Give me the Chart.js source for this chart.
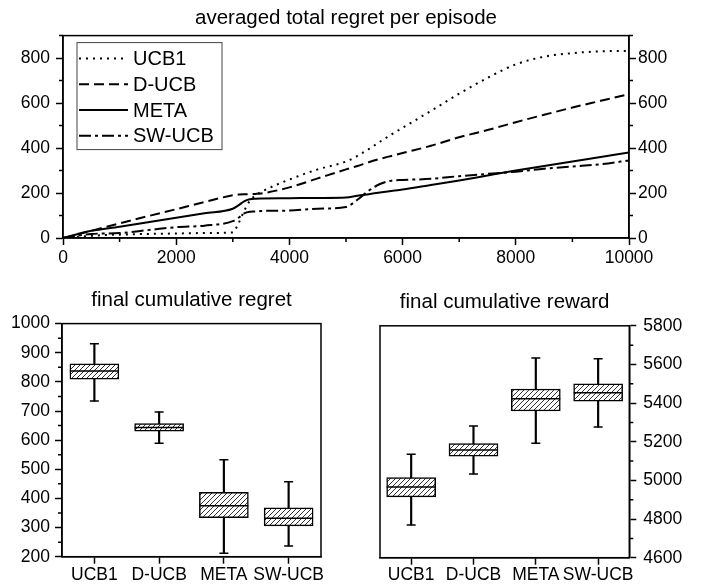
<!DOCTYPE html>
<html>
<head>
<meta charset="utf-8">
<script src="https://cdn.jsdelivr.net/npm/chart.js@4.4.1/dist/chart.umd.min.js"></script>
<style>
    html, body { margin: 0; padding: 0; background: #fff; }
    body { width: 708px; height: 588px; position: relative; overflow: hidden; }
    canvas { position: absolute; }
    #regretLine { left: 0; top: 0; }
    #regretBox { left: 0; top: 280px; }
    #rewardBox { left: 354px; top: 280px; }
</style>
</head>
<body>
<canvas id="regretLine" width="708" height="280"></canvas>
<canvas id="regretBox" width="354" height="308"></canvas>
<canvas id="rewardBox" width="354" height="308"></canvas>
<script>
const episodes = [0, 250, 500, 1000, 1500, 2000, 2500, 3000, 3100, 3200, 3300, 3400, 3500, 4000, 4500,
    5000, 5200, 5400, 5600, 5800, 6000, 6500, 7000, 7500, 8000, 8500, 9000, 9500, 10000];
const ucb1Regret = [0, 5, 10, 15, 18, 20, 22, 25, 65, 120, 165, 190, 205, 260, 305,
    340, 365, 395, 428, 460, 490, 565, 642, 712, 772, 806, 822, 830, 832];
const ducbRegret = [0, 15, 32, 65, 97, 128, 160, 190, 193, 195, 195, 196, 198, 225, 265,
    305, 320, 337, 352, 365, 378, 410, 448, 480, 515, 548, 580, 610, 640];
const metaRegret = [0, 17, 32, 50, 70, 90, 110, 130, 145, 163, 172, 175, 176, 177, 178,
    180, 188, 195, 202, 209, 216, 236, 256, 278, 300, 320, 340, 360, 380];
const swucbRegret = [0, 10, 18, 22, 35, 48, 55, 75, 90, 110, 117, 118, 120, 122, 130,
    138, 170, 210, 240, 255, 258, 263, 275, 285, 295, 308, 318, 328, 345];

// box plots
const algorithms = ['UCB1', 'D-UCB', 'META', 'SW-UCB'];
const regretMin = [734, 589, 212, 237];
const regretQ1 = [809, 631, 334, 306];
const regretMedian = [837, 643, 375, 332];
const regretQ3 = [862, 657, 421, 368];
const regretMax = [931, 697, 533, 457];

const rewardMin = [4769, 5033, 5192, 5276];
const rewardQ1 = [4915, 5126, 5359, 5410];
const rewardMedian = [4966, 5157, 5422, 5453];
const rewardQ3 = [5014, 5190, 5473, 5500];
const rewardMax = [5135, 5281, 5633, 5629];

Chart.defaults.font.family = "'Liberation Sans', Arial, sans-serif";
Chart.defaults.font.size = 17.5;
Chart.defaults.color = '#000';
Chart.defaults.animation = false;
Chart.defaults.events = [];
Chart.defaults.plugins.legend.display = false;
Chart.defaults.plugins.tooltip.enabled = false;

/**
 * Frame around the plot area
 */
const frame = {
    id: 'frame',
    afterDraw(chart) {
        const a = chart.chartArea, ctx = chart.ctx;
        ctx.save();
        ctx.strokeStyle = '#000';
        ctx.lineWidth = 1.5;
        ctx.strokeRect(a.left, a.top, a.right - a.left, a.bottom - a.top);
        ctx.restore();
    }
};

/**
 * Short unlabeled ticks between the major ones
 */
const minorTicks = {
    id: 'minorTicks',
    afterDraw(chart, args, opts) {
        const ctx = chart.ctx;
        ctx.save();
        ctx.strokeStyle = '#000';
        ctx.lineWidth = 1.5;
        Object.keys(opts.steps || {}).forEach(function(id) {
            const s = chart.scales[id];
            const step = opts.steps[id];
            if (!s) return;
            ctx.beginPath();
            for (let v = s.min; v <= s.max + 1e-6; v += step) {
                if (s.ticks.some(t => Math.abs(t.value - v) < 1e-6)) continue;
                const p = s.getPixelForValue(v);
                if (s.position === 'left') { ctx.moveTo(s.right, p); ctx.lineTo(s.right - 4, p); }
                else if (s.position === 'right') { ctx.moveTo(s.left, p); ctx.lineTo(s.left + 4, p); }
                else { ctx.moveTo(p, s.top); ctx.lineTo(p, s.top + 4); }
            }
            ctx.stroke();
        });
        ctx.restore();
    }
};

/**
 * Boxed legend in the upper left corner of the line chart
 */
const boxLegend = {
    id: 'boxLegend',
    afterDatasetsDraw(chart) {
        const a = chart.chartArea, ctx = chart.ctx;
        const x0 = a.left + 14, y0 = a.top + 7;
        ctx.save();
        ctx.strokeStyle = '#444';
        ctx.lineWidth = 1;
        ctx.strokeRect(x0, y0, 145, 107);
        ctx.font = "20px 'Liberation Sans', Arial, sans-serif";
        ctx.textBaseline = 'middle';
        ctx.fillStyle = '#000';
        chart.data.datasets.forEach(function(ds, i) {
            const y = a.top + 23 + i * 25.7;
            ctx.beginPath();
            ctx.setLineDash(ds.borderDash || []);
            ctx.lineWidth = ds.borderWidth;
            ctx.strokeStyle = ds.borderColor;
            ctx.moveTo(x0 + 2, y);
            ctx.lineTo(x0 + 51, y);
            ctx.stroke();
            ctx.fillText(ds.label, x0 + 56, y + 1);
        });
        ctx.restore();
    }
};

function makeHatch() {
    const c = document.createElement('canvas');
    c.width = 5;
    c.height = 5;
    const g = c.getContext('2d');
    g.fillStyle = '#fff';
    g.fillRect(0, 0, 5, 5);
    g.strokeStyle = '#333';
    g.lineWidth = 1;
    g.beginPath();
    g.moveTo(0, 5); g.lineTo(5, 0);
    g.moveTo(-1, 1); g.lineTo(1, -1);
    g.moveTo(4, 6); g.lineTo(6, 4);
    g.stroke();
    return g.createPattern(c, 'repeat');
}

// plain numbers, no thousands separator
function plainLabel(value) {
    return String(value);
}

function axisStyle(extra) {
    return Object.assign({
        grid: { drawOnChartArea: false, drawTicks: true, tickLength: 7, tickColor: '#000', tickWidth: 1.5, offset: false },
        border: { color: '#000', width: 1.5 }
    }, extra);
}

function seriesPoints(values) {
    return episodes.map((x, i) => ({ x: x, y: values[i] }));
}

function lineSet(label, values, dash) {
    return {
        label: label,
        data: seriesPoints(values),
        borderColor: '#000',
        borderWidth: 2,
        borderDash: dash,
        pointRadius: 0,
        cubicInterpolationMode: 'monotone',
        fill: false
    };
}

// averaged total regret per episode
new Chart(document.getElementById('regretLine'), {
    type: 'line',
    data: {
        datasets: [
            lineSet('UCB1', ucb1Regret, [2, 5]),
            lineSet('D-UCB', ducbRegret, [10, 5]),
            lineSet('META', metaRegret, []),
            lineSet('SW-UCB', swucbRegret, [12, 4, 3, 4])
        ]
    },
    options: {
        responsive: false,
        layout: { padding: 0 },
        scales: {
            x: axisStyle({
                type: 'linear', min: 0, max: 10000,
                ticks: { stepSize: 2000, padding: 3, maxRotation: 0, callback: plainLabel },
                afterFit: function(s) { s.height = 42; }
            }),
            y: axisStyle({
                type: 'linear', position: 'left', min: 0, max: 900,
                ticks: { stepSize: 200, includeBounds: false, padding: 6, callback: plainLabel },
                afterFit: function(s) { s.width = 63; }
            }),
            y2: axisStyle({
                type: 'linear', position: 'right', min: 0, max: 900,
                ticks: { stepSize: 200, includeBounds: false, padding: 2, callback: plainLabel },
                afterFit: function(s) { s.width = 79; }
            })
        },
        plugins: {
            title: {
                display: true,
                text: 'averaged total regret per episode',
                font: { size: 20.5, weight: 'normal' },
                padding: { top: 6, bottom: 5 },
                fullSize: false
            },
            minorTicks: { steps: { x: 1000, y: 100, y2: 100 } }
        }
    },
    plugins: [frame, minorTicks, boxLegend]
});

function boxDatasets(mins, q1, med, q3, maxs, hatch) {
    return [
        {
            type: 'bar', data: algorithms.map((c, i) => [mins[i], maxs[i]]),
            backgroundColor: '#000', barThickness: 1.5, grouped: false, order: 4
        },
        {
            type: 'bar', data: algorithms.map((c, i) => [q1[i], q3[i]]),
            backgroundColor: hatch, borderColor: '#000', borderWidth: 1.5,
            borderSkipped: false, barThickness: 49, grouped: false, order: 3
        },
        {
            type: 'line', data: med, showLine: false, pointStyle: 'line',
            pointRadius: 24.5, pointBorderWidth: 1.5, pointBorderColor: '#000', order: 1
        },
        {
            type: 'line', data: mins, showLine: false, pointStyle: 'line',
            pointRadius: 4.5, pointBorderWidth: 1.5, pointBorderColor: '#000', order: 2
        },
        {
            type: 'line', data: maxs, showLine: false, pointStyle: 'line',
            pointRadius: 4.5, pointBorderWidth: 1.5, pointBorderColor: '#000', order: 2
        }
    ];
}

const hatch = makeHatch();

// final cumulative regret
new Chart(document.getElementById('regretBox'), {
    type: 'bar',
    data: {
        labels: algorithms,
        datasets: boxDatasets(regretMin, regretQ1, regretMedian, regretQ3, regretMax, hatch)
    },
    options: {
        responsive: false,
        layout: { padding: { right: 33 } },
        scales: {
            x: axisStyle({
                type: 'category', offset: true,
                ticks: { padding: 1, maxRotation: 0, autoSkip: false },
                afterFit: function(s) { s.height = 31.3; }
            }),
            y: axisStyle({
                type: 'linear', position: 'left', min: 200, max: 1000,
                ticks: { stepSize: 100, padding: 5, callback: plainLabel },
                afterFit: function(s) { s.width = 62; }
            })
        },
        plugins: {
            title: {
                display: true,
                text: 'final cumulative regret',
                font: { size: 20.5, weight: 'normal' },
                padding: { top: 8, bottom: 11 },
                fullSize: false
            },
            minorTicks: { steps: { y: 50 } }
        }
    },
    plugins: [frame, minorTicks]
});

// final cumulative reward
new Chart(document.getElementById('rewardBox'), {
    type: 'bar',
    data: {
        labels: algorithms,
        datasets: boxDatasets(rewardMin, rewardQ1, rewardMedian, rewardQ3, rewardMax, hatch)
    },
    options: {
        responsive: false,
        layout: { padding: { left: 17.7 } },
        scales: {
            x: axisStyle({
                type: 'category', offset: true,
                ticks: { padding: 0, maxRotation: 0, autoSkip: false },
                afterFit: function(s) { s.height = 30.3; }
            }),
            y: axisStyle({
                type: 'linear', position: 'right', min: 4600, max: 5800,
                ticks: { stepSize: 200, padding: 7, callback: plainLabel },
                afterFit: function(s) { s.width = 78.7; }
            })
        },
        plugins: {
            title: {
                display: true,
                text: 'final cumulative reward',
                font: { size: 20.5, weight: 'normal' },
                padding: { top: 10, bottom: 11.2 },
                fullSize: false
            },
            minorTicks: { steps: { y: 100 } }
        }
    },
    plugins: [frame, minorTicks]
});
</script>
</body>
</html>
